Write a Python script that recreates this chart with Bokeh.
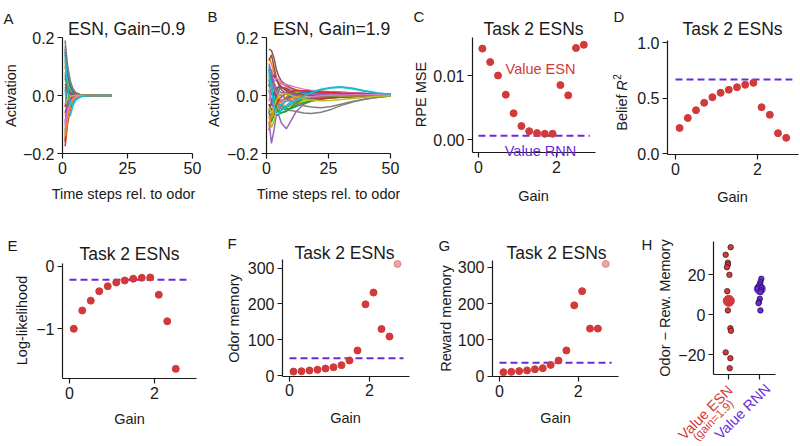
from bokeh.plotting import figure
from bokeh.models import Range1d, Label
from bokeh.layouts import column, row
from bokeh.embed import file_html
from bokeh.resources import INLINE

FONT = "Liberation Sans"
INK = "#1a1a1a"
RED = "#d2393a"
PURPLE = "#6a2bdc"
TAB10 = ["#1f77b4", "#ff7f0e", "#2ca02c", "#d62728", "#9467bd",
         "#8c564b", "#e377c2", "#7f7f7f", "#bcbd22", "#17becf"]

# ---------------- data ----------------
a_time = [1, 2, 3, 4, 5, 7, 9, 12, 15, 19]
a_traces = [
    [0.03, 0.012, 0.004, 0.001, 0.000, -0.001, 0, 0, 0, 0],
    [0.08, 0.038, 0.016, 0.006, 0.002, 0.000, 0, 0, 0, 0],
    [-0.13, -0.065, -0.030, -0.013, -0.005, -0.001, 0, 0, 0, 0],
    [-0.175, -0.095, -0.048, -0.022, -0.010, -0.002, -0.001, 0, 0, 0],
    [0.06, 0.018, 0.004, -0.002, -0.003, -0.002, -0.001, 0, 0, 0],
    [-0.04, 0.03, 0.028, 0.015, 0.007, 0.002, 0.001, 0, 0, 0],
    [-0.07, -0.035, -0.016, -0.007, -0.003, -0.001, 0, 0, 0, 0],
    [0.19, 0.10, 0.05, 0.024, 0.011, 0.003, 0.001, 0, 0, 0],
    [-0.155, -0.08, -0.038, -0.017, -0.007, -0.002, 0, 0, 0, 0],
    [0.14, 0.065, 0.028, 0.011, 0.004, 0.001, 0, 0, 0, 0],
    [-0.10, -0.045, -0.019, -0.008, -0.003, -0.001, 0, 0, 0, 0],
    [0.12, 0.055, 0.022, 0.009, 0.003, 0.001, 0, 0, 0, 0],
    [0.02, 0.04, 0.025, 0.012, 0.005, 0.001, 0, 0, 0, 0],
    [-0.16, -0.02, 0.03, 0.02, 0.009, 0.002, 0.001, 0, 0, 0],
    [0.10, 0.04, 0.012, 0.002, -0.001, -0.001, 0, 0, 0, 0],
    [0.16, 0.08, 0.036, 0.016, 0.007, 0.002, 0, 0, 0, 0],
    [0.05, 0.04, 0.024, 0.012, 0.005, 0.001, 0, 0, 0, 0],
    [-0.12, -0.06, -0.028, -0.012, -0.005, -0.001, 0, 0, 0, 0],
    [0.11, 0.05, 0.02, 0.008, 0.003, 0.001, 0, 0, 0, 0],
    [0.02, -0.065, -0.07, -0.035, -0.016, -0.004, -0.001, 0, 0, 0],
    [0.15, 0.07, 0.03, 0.012, 0.004, 0.001, 0, 0, 0, 0],
    [-0.14, -0.07, -0.03, -0.012, -0.004, -0.001, 0, 0, 0, 0],
    [0.07, 0.03, 0.012, 0.004, 0.001, 0, 0, 0, 0, 0],
    [-0.06, -0.025, -0.01, -0.004, -0.001, 0, 0, 0, 0, 0],
    [-0.09, -0.03, -0.005, 0.003, 0.003, 0.001, 0, 0, 0, 0],
    [0.04, 0.02, 0.008, 0.003, 0.001, 0, 0, 0, 0, 0],
    [-0.11, -0.055, -0.025, -0.011, -0.004, -0.001, 0, 0, 0, 0],
    [0.17, 0.09, 0.045, 0.021, 0.009, 0.002, 0, 0, 0, 0],
    [-0.03, -0.012, -0.004, -0.001, 0, 0, 0, 0, 0, 0],
    [0.13, 0.03, -0.03, -0.03, -0.016, -0.004, -0.001, 0, 0, 0],
]

b_time = [1, 2, 3, 4, 5, 6, 8, 10, 12, 15, 18, 22, 26, 30, 35, 40, 45, 50]
b_traces = [
    [0.05, 0.07, 0.04, 0.01, -0.01, -0.02, -0.015, -0.005, 0.002, 0.008, 0.01, 0.012, 0.012, 0.011, 0.009, 0.007, 0.005, 0.004],
    [0.13, 0.11, 0.08, 0.055, 0.045, 0.04, 0.032, 0.025, 0.02, 0.015, 0.012, 0.01, 0.009, 0.008, 0.007, 0.006, 0.005, 0.004],
    [-0.03, -0.05, -0.062, -0.068, -0.065, -0.06, -0.052, -0.042, -0.033, -0.024, -0.018, -0.012, -0.008, -0.005, -0.003, -0.001, 0.0, 0.001],
    [-0.12, -0.08, -0.04, 0.0, 0.02, 0.028, 0.025, 0.018, 0.015, 0.015, 0.016, 0.015, 0.013, 0.011, 0.009, 0.007, 0.006, 0.005],
    [-0.09, -0.165, -0.12, -0.065, -0.07, -0.095, -0.115, -0.085, -0.055, -0.03, -0.018, -0.01, -0.005, -0.002, 0.0, 0.001, 0.002, 0.002],
    [0.16, 0.155, 0.13, 0.09, 0.065, 0.05, 0.035, 0.025, 0.018, 0.012, 0.01, 0.008, 0.007, 0.006, 0.005, 0.004, 0.004, 0.003],
    [0.08, 0.09, 0.065, 0.05, 0.045, 0.042, 0.038, 0.033, 0.028, 0.022, 0.018, 0.014, 0.012, 0.01, 0.008, 0.006, 0.005, 0.004],
    [0.05, 0.02, -0.01, -0.03, -0.04, -0.045, -0.05, -0.052, -0.055, -0.06, -0.062, -0.058, -0.048, -0.035, -0.022, -0.012, -0.006, -0.002],
    [-0.10, -0.09, -0.05, -0.02, -0.01, -0.025, -0.04, -0.035, -0.028, -0.02, -0.014, -0.01, -0.007, -0.005, -0.003, -0.002, -0.001, 0.0],
    [0.10, 0.04, -0.02, -0.048, -0.055, -0.05, -0.035, -0.02, -0.01, 0.002, 0.012, 0.022, 0.028, 0.03, 0.025, 0.016, 0.009, 0.004],
    [-0.05, -0.03, 0.0, 0.02, 0.03, 0.03, 0.02, 0.008, 0.0, -0.006, -0.008, -0.007, -0.005, -0.003, -0.001, 0.0, 0.001, 0.001],
    [0.06, 0.02, -0.02, -0.035, -0.03, -0.02, -0.005, 0.005, 0.01, 0.012, 0.01, 0.008, 0.006, 0.005, 0.004, 0.003, 0.003, 0.002],
    [-0.06, -0.09, -0.07, -0.04, -0.03, -0.035, -0.045, -0.045, -0.038, -0.028, -0.02, -0.013, -0.009, -0.006, -0.004, -0.002, -0.001, 0.0],
    [0.03, 0.06, 0.07, 0.055, 0.04, 0.03, 0.015, 0.005, -0.002, -0.008, -0.01, -0.01, -0.008, -0.006, -0.004, -0.002, -0.001, 0.0],
    [0.02, -0.02, -0.05, -0.06, -0.05, -0.035, -0.015, -0.005, 0.002, 0.006, 0.008, 0.008, 0.007, 0.006, 0.005, 0.004, 0.003, 0.002],
    [0.12, 0.14, 0.1, 0.06, 0.035, 0.02, 0.005, -0.005, -0.01, -0.012, -0.01, -0.007, -0.004, -0.002, 0.0, 0.001, 0.001, 0.001],
    [-0.02, 0.02, 0.05, 0.06, 0.055, 0.045, 0.03, 0.02, 0.014, 0.01, 0.008, 0.007, 0.006, 0.005, 0.004, 0.004, 0.003, 0.003],
    [-0.08, -0.06, -0.04, -0.035, -0.04, -0.045, -0.04, -0.03, -0.02, -0.012, -0.008, -0.005, -0.003, -0.002, -0.001, 0.0, 0.0, 0.001],
    [-0.07, -0.11, -0.09, -0.05, -0.02, -0.005, 0.01, 0.015, 0.012, 0.006, 0.002, -0.001, -0.002, -0.002, -0.001, 0.0, 0.001, 0.001],
    [0.07, 0.03, -0.01, -0.03, -0.035, -0.03, -0.02, -0.01, -0.004, 0.0, 0.002, 0.004, 0.005, 0.005, 0.005, 0.004, 0.003, 0.003],
    [0.09, 0.06, 0.02, -0.01, -0.02, -0.018, -0.01, 0.0, 0.006, 0.01, 0.01, 0.008, 0.006, 0.005, 0.004, 0.003, 0.003, 0.002],
    [-0.1, -0.07, -0.045, -0.03, -0.022, -0.018, -0.014, -0.01, -0.006, -0.002, 0.001, 0.003, 0.004, 0.004, 0.004, 0.003, 0.003, 0.002],
    [0.04, 0.01, -0.02, -0.04, -0.055, -0.06, -0.055, -0.04, -0.025, -0.012, -0.006, -0.002, 0.0, 0.001, 0.002, 0.002, 0.002, 0.002],
    [-0.03, -0.05, -0.045, -0.03, -0.015, -0.005, 0.008, 0.014, 0.016, 0.016, 0.014, 0.012, 0.01, 0.008, 0.006, 0.005, 0.004, 0.003],
    [0.11, 0.08, 0.045, 0.025, 0.015, 0.01, 0.008, 0.006, 0.005, 0.004, 0.004, 0.004, 0.003, 0.003, 0.003, 0.002, 0.002, 0.002],
    [-0.06, -0.02, 0.01, 0.025, 0.03, 0.028, 0.02, 0.012, 0.006, 0.002, 0.0, -0.001, -0.001, 0.0, 0.0, 0.001, 0.001, 0.001],
    [0.01, 0.04, 0.03, 0.01, -0.005, -0.015, -0.02, -0.018, -0.014, -0.008, -0.004, -0.001, 0.001, 0.002, 0.003, 0.003, 0.003, 0.002],
    [0.08, 0.05, 0.03, 0.015, 0.005, 0.0, -0.01, -0.02, -0.028, -0.035, -0.04, -0.042, -0.038, -0.03, -0.02, -0.012, -0.006, -0.002],
    [-0.04, -0.06, -0.04, -0.015, 0.0, 0.006, 0.006, 0.0, -0.006, -0.012, -0.016, -0.018, -0.017, -0.014, -0.01, -0.006, -0.003, -0.001],
    [0.09, 0.02, -0.035, -0.058, -0.06, -0.052, -0.04, -0.028, -0.016, -0.002, 0.01, 0.02, 0.026, 0.028, 0.022, 0.014, 0.008, 0.004],
]

gain = [0.1, 0.3, 0.5, 0.7, 0.9, 1.1, 1.3, 1.5, 1.7, 1.9, 2.1, 2.3, 2.5, 2.7]
rpe_mse_esn = [0.0142, 0.0121, 0.0100, 0.0070, 0.0041, 0.0021, 0.0013, 0.0010, 0.0009, 0.0009, 0.0085, 0.0069, 0.0143, 0.0148]
rpe_mse_rnn = 0.0006
belief_r2_esn = [0.23, 0.32, 0.39, 0.457, 0.507, 0.547, 0.574, 0.597, 0.619, 0.637, 0.417, 0.349, 0.183, 0.141]
belief_r2_rnn = 0.667
loglik_gain = [0.1, 0.3, 0.5, 0.7, 0.9, 1.1, 1.3, 1.5, 1.7, 1.9, 2.1, 2.3, 2.5]
loglik_esn = [-1.0, -0.707, -0.55, -0.40, -0.32, -0.26, -0.228, -0.20, -0.186, -0.18, -0.456, -0.88, -1.64]
loglik_rnn = -0.217
mem_gain = [0.1, 0.3, 0.5, 0.7, 0.9, 1.1, 1.3, 1.5, 1.7, 1.9, 2.1, 2.3, 2.5]
odor_mem_esn = [11, 12, 14, 16, 19.5, 23, 29, 42, 70, 199, 232, 130, 109]
odor_mem_outlier_gain = 2.7
odor_mem_outlier = 312
odor_mem_rnn = 48
reward_mem_esn = [11, 12, 14, 16, 19, 22, 31, 43, 71, 195, 234, 131, 131]
reward_mem_outlier_gain = 2.7
reward_mem_outlier = 309
reward_mem_rnn = 37
rnn_line_gain = [0.0, 2.85]
diff_esn = [33.8, 30.0, 26.0, 25.0, 23.8, 20.0, 11.8, 2.2, -6.7, -8.0, -18.8, -21.7, -26.7]
diff_esn_jitter = [0.06, -0.1, -0.03, -0.03, -0.06, 0.02, -0.05, -0.03, 0.05, 0.07, -0.1, 0.05, 0.03]
diff_esn_center = 7.0
diff_rnn = [18.0, 16.3, 15.2, 14.2, 13.6, 13.0, 12.2, 11.3, 8.0, 6.3, 5.8, 2.2]
diff_rnn_jitter = [0.05, 0.02, 0.0, -0.03, 0.05, -0.06, 0.04, 0.02, 0.0, -0.03, -0.04, 0.02]
diff_rnn_center = 13.0
h_categories = [1, 2]

# ---------------- styling helpers ----------------
TICK_PX = "16px"
LABEL_PX = "14.5px"
TITLE_PX = "17.5px"
LETTER_PX = "15px"
MINUS = "\u2212"


class Panel:
    """A figure whose frame fills the whole canvas; px <-> data via two calibration points."""

    def __init__(self, box, xcal, ycal):
        X0, Y0, W, H = box
        (pa, va), (pb, vb) = xcal
        (qa, wa), (qb, wb) = ycal
        self.kx, self.pxa, self.vxa = (vb - va) / (pb - pa), pa, va
        self.ky, self.pya, self.vya = (wb - wa) / (qb - qa), qa, wa
        p = figure(width=W, height=H, title=None,
                   x_range=Range1d(self.x(X0), self.x(X0 + W)),
                   y_range=Range1d(self.y(Y0 + H), self.y(Y0)),
                   output_backend="svg", toolbar_location=None, tools="",
                   min_border=0, min_border_left=0, min_border_right=0,
                   min_border_top=0, min_border_bottom=0)
        p.outline_line_color = None
        p.grid.visible = False
        p.background_fill_color = "white"
        p.border_fill_color = "white"
        for ax in (p.xaxis, p.yaxis):
            ax.axis_line_color = INK
            ax.axis_line_width = 1.2
            ax.major_tick_line_color = INK
            ax.major_tick_line_width = 1.2
            ax.major_tick_out = 5
            ax.major_tick_in = 0
            ax.minor_tick_line_color = None
            ax.major_label_text_font = FONT
            ax.major_label_text_font_size = TICK_PX
            ax.major_label_text_color = INK
            ax.major_label_standoff = 3
        self.p = p

    def x(self, px):
        return self.vxa + (px - self.pxa) * self.kx

    def y(self, py):
        return self.vya + (py - self.pya) * self.ky

    def axes(self, left_px, bottom_px, top_px, right_px, xticks, yticks, xover=None, yover=None):
        xa, ya = self.p.xaxis[0], self.p.yaxis[0]
        xl, xr = self.x(left_px), self.x(right_px)
        yb, yt = self.y(bottom_px), self.y(top_px)
        ex, ey = abs(xr - xl) * 1e-6, abs(yt - yb) * 1e-6
        xa.fixed_location = yb
        ya.fixed_location = xl
        xa.bounds = (xl - ex, xr + ex)
        ya.bounds = (yb - ey, yt + ey)
        xa.ticker = xticks
        ya.ticker = yticks
        if xover:
            xa.major_label_overrides = xover
        if yover:
            ya.major_label_overrides = yover

    def text(self, px, py, txt, size, color=INK, align="left", baseline="alphabetic",
             angle=0, style="normal"):
        self.p.add_layout(Label(x=self.x(px), y=self.y(py), text=txt,
                                text_font=FONT, text_font_size=size, text_color=color,
                                text_font_style=style,
                                text_align=align, text_baseline=baseline,
                                angle=angle, angle_units="deg"))

    def ylabel(self, px, py, txt, size=LABEL_PX):
        self.text(px, py, txt, size, align="center", baseline="middle", angle=90)

    def xlabel(self, px, py, txt):
        self.text(px, py, txt, LABEL_PX, align="center")

    def title(self, px, py, txt):
        self.text(px, py, txt, TITLE_PX, align="center")

    def letter(self, px, py, txt):
        self.text(px, py, txt, LETTER_PX)


ROW1_Y, ROW1_H = 0, 223
ROW2_Y, ROW2_H = 223, 222

# ---------------- A ----------------
A = Panel((0, ROW1_Y, 202, ROW1_H), ((62, 0), (192, 50)), ((37, 0.2), (153, -0.2)))
for i, tr in enumerate(a_traces):
    A.p.line(a_time, tr, line_color=TAB10[i % 10], line_width=1.5)
A.axes(62, 153, 37, 192, [0, 25, 50], [-0.2, 0, 0.2],
       yover={-0.2: MINUS + "0.2", 0: "0.0", 0.2: "0.2"})
A.title(126, 28, "ESN, Gain=0.9")
A.letter(3, 18, "A")
A.ylabel(10, 95, "Activation")
A.xlabel(123, 193, "Time steps rel. to odor")

# ---------------- B ----------------
B = Panel((202, ROW1_Y, 198, ROW1_H), ((266, 0), (390, 50)), ((37, 0.2), (153, -0.2)))
for i, tr in enumerate(b_traces):
    B.p.line(b_time, tr, line_color=TAB10[i % 10], line_width=1.5)
B.axes(266, 153, 37, 390, [0, 25, 50], [-0.2, 0, 0.2],
       yover={-0.2: MINUS + "0.2", 0: "0.0", 0.2: "0.2"})
B.title(331, 28, "ESN, Gain=1.9")
B.letter(207, 16, "B")
B.ylabel(213, 95, "Activation")
B.xlabel(328, 193, "Time steps rel. to odor")

# ---------------- C ----------------
C = Panel((400, ROW1_Y, 196, ROW1_H), ((478, 0), (556, 2)), ((139, 0.0), (75, 0.01)))
C.p.line(rnn_line_gain, [rpe_mse_rnn] * 2, line_color=PURPLE, line_width=2, line_dash="7 4")
C.p.scatter(gain, rpe_mse_esn, size=7, color=RED)
C.axes(472, 152, 37, 595, [0, 2], [0, 0.01], yover={0: "0.00", 0.01: "0.01"})
C.title(533, 28, "Task 2 ESNs")
C.letter(413, 16, "C")
C.ylabel(420, 94, "RPE MSE")
C.xlabel(533, 195, "Gain")
C.text(540, 68, "Value ESN", LABEL_PX, color=RED, align="center")
C.text(540, 150, "Value RNN", LABEL_PX, color=PURPLE, align="center")

# ---------------- D ----------------
D = Panel((596, ROW1_Y, 204, ROW1_H), ((675, 0), (757, 2)), ((153, 0.0), (42, 1.0)))
D.p.line(rnn_line_gain, [belief_r2_rnn] * 2, line_color=PURPLE, line_width=2, line_dash="7 4")
D.p.scatter(gain, belief_r2_esn, size=7, color=RED)
D.axes(667, 154, 40, 798, [0, 2], [0, 0.5, 1.0], yover={0: "0.0", 0.5: "0.5", 1: "1.0"})
D.title(732, 28, "Task 2 ESNs")
D.letter(613, 16, "D")
D.ylabel(621, 112, "Belief")
D.text(621, 85, "R", LABEL_PX, align="center", baseline="middle", angle=90, style="italic")
D.text(616, 76.5, "2", "10px", align="center", baseline="middle", angle=90)
D.xlabel(732, 196, "Gain")

# ---------------- E ----------------
E = Panel((0, ROW2_Y, 200, ROW2_H), ((69, 0), (154, 2)), ((265.7, 0.0), (328.3, -1.0)))
E.p.line(rnn_line_gain, [loglik_rnn] * 2, line_color=PURPLE, line_width=2, line_dash="7 4")
E.p.scatter(loglik_gain, loglik_esn, size=7, color=RED)
E.axes(62, 378, 263, 196, [0, 2], [-1, 0], yover={-1: MINUS + "1", 0: "0"})
E.title(129, 253, "Task 2 ESNs")
E.letter(7, 245, "E")
E.ylabel(21, 320, "Log-likelihood")
E.xlabel(129, 418, "Gain")

# ---------------- F ----------------
F = Panel((200, ROW2_Y, 212, ROW2_H), ((289, 0), (369, 2)), ((375, 0), (267.7, 300)))
F.p.line(rnn_line_gain, [odor_mem_rnn] * 2, line_color=PURPLE, line_width=2, line_dash="7 4")
F.p.scatter(mem_gain, odor_mem_esn, size=7, color=RED)
F.p.scatter([odor_mem_outlier_gain], [odor_mem_outlier], size=7, color=RED, alpha=0.45)
F.axes(282, 375.5, 259, 409, [0, 2], [0, 100, 200, 300])
F.title(344, 252, "Task 2 ESNs")
F.letter(227, 243, "F")
F.ylabel(233, 318, "Odor memory")
F.xlabel(345, 417, "Gain")

# ---------------- G ----------------
G = Panel((412, ROW2_Y, 208, ROW2_H), ((499, 0), (577.7, 2)), ((375.7, 0), (266.7, 300)))
G.p.line(rnn_line_gain, [reward_mem_rnn] * 2, line_color=PURPLE, line_width=2, line_dash="7 4")
G.p.scatter(mem_gain, reward_mem_esn, size=7, color=RED)
G.p.scatter([reward_mem_outlier_gain], [reward_mem_outlier], size=7, color=RED, alpha=0.45)
G.axes(492, 376, 260, 618, [0, 2], [0, 100, 200, 300])
G.title(556, 252, "Task 2 ESNs")
G.letter(438, 245, "G")
G.ylabel(445, 318, "Reward memory")
G.xlabel(555, 417, "Gain")

# ---------------- H ----------------
Hh = Panel((620, ROW2_Y, 180, ROW2_H), ((728.3, 1), (759.3, 2)), ((314.3, 0), (274.3, 20)))
hp = Hh.p
hp.scatter([h_categories[0]], [diff_esn_center], size=11, color=RED)
hp.scatter([h_categories[1]], [diff_rnn_center], size=11, color=PURPLE, alpha=0.85)
hp.scatter([h_categories[0] + j for j in diff_esn_jitter], diff_esn, size=5.5,
           fill_color=RED, line_color="#3a1010", line_width=0.7)
hp.scatter([h_categories[1] + j for j in diff_rnn_jitter], diff_rnn, size=5.5,
           fill_color=PURPLE, line_color="#1a0a3a", line_width=0.7)
Hh.axes(713, 374, 241, 775, h_categories, [-20, 0, 20],
        xover={1: "", 2: ""}, yover={-20: MINUS + "20", 0: "0", 20: "20"})
Hh.letter(641, 244, "H")
Hh.ylabel(664, 307.5, "Odor " + MINUS + " Rew. Memory")
Hh.text(705, 412, "Value ESN", LABEL_PX, color=RED, align="center", baseline="middle", angle=45)
Hh.text(712.5, 419.5, "(gain=1.9)", "11.5px", color=RED, align="center", baseline="middle", angle=45)
Hh.text(742, 411, "Value RNN", LABEL_PX, color=PURPLE, align="center", baseline="middle", angle=45)

layout = column(row(A.p, B.p, C.p, D.p), row(E.p, F.p, G.p, Hh.p))
open("out.html", "w").write(file_html(layout, INLINE))
